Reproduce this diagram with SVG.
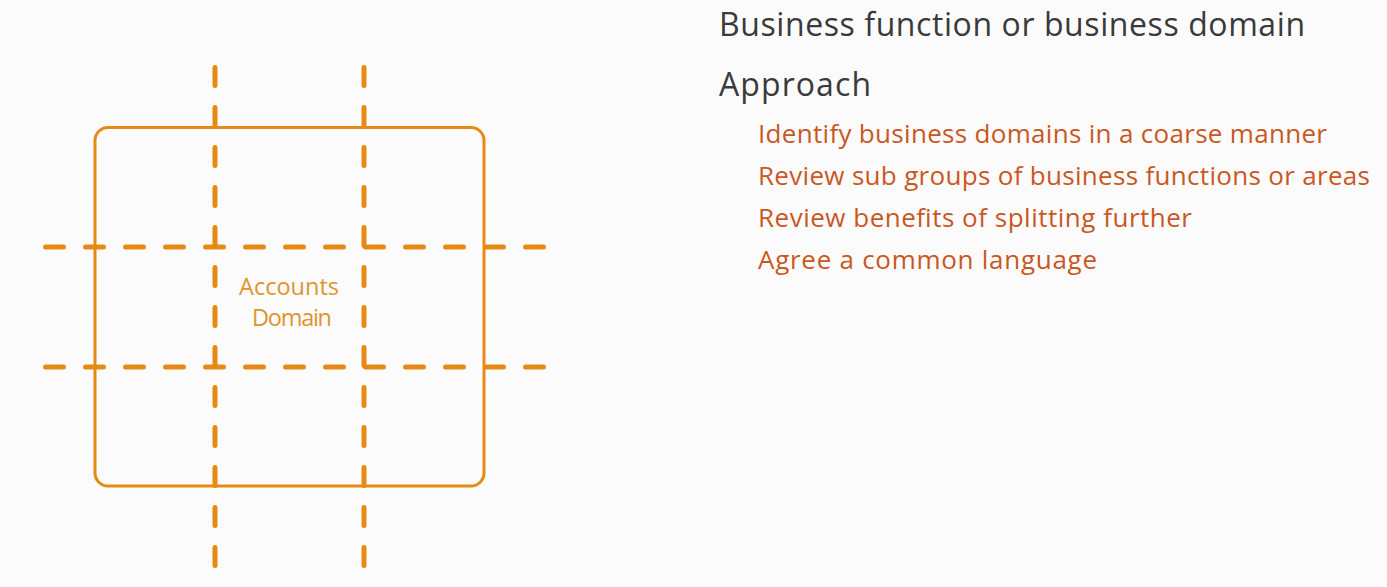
<svg xmlns="http://www.w3.org/2000/svg" width="1387" height="587" viewBox="0 0 1387 587">
<style>
.bg{fill:#fbfbfb}
.box{fill:none;stroke:#e68a14;stroke-width:3}
.dash{stroke:#e68a14;stroke-width:5;stroke-linecap:round;stroke-dasharray:18 22;fill:none}
.lbl{font-family:"Open Sans",Lato,sans-serif;font-size:23.5px;fill:#e0952c;text-anchor:middle}
.h1{font-family:"Open Sans",Lato,sans-serif;font-size:32px;fill:#3a3a3a}
.h2{font-family:"Open Sans",Lato,sans-serif;font-size:26px;fill:#c9581f}
</style>
<rect class="bg" x="0" y="0" width="1387" height="587"/>
<g id="accounts-domain">
<rect class="box" x="95" y="127.5" width="389" height="358.5" rx="13"/>
<text class="lbl" x="289" y="294.5" textLength="100">Accounts</text>
<text class="lbl" x="292" y="325.5" textLength="80">Domain</text>
</g>
<g id="connectors">
<line class="dash" x1="215" y1="67.5" x2="215" y2="568"/>
<line class="dash" x1="364" y1="67.5" x2="364" y2="568"/>
<line class="dash" x1="45.5" y1="247" x2="545" y2="247"/>
<line class="dash" x1="45.5" y1="367" x2="545" y2="367"/>
</g>
<g id="text-panel">
<text class="h1" x="719" y="36" textLength="586">Business function or business domain</text>
<text class="h1" x="719" y="96" textLength="152">Approach</text>
<text class="h2" x="758" y="143" textLength="569">Identify business domains in a coarse manner</text>
<text class="h2" x="758" y="185" textLength="612">Review sub groups of business functions or areas</text>
<text class="h2" x="758" y="227" textLength="434">Review benefits of splitting further</text>
<text class="h2" x="758" y="269" textLength="339">Agree a common language</text>
</g>
</svg>
